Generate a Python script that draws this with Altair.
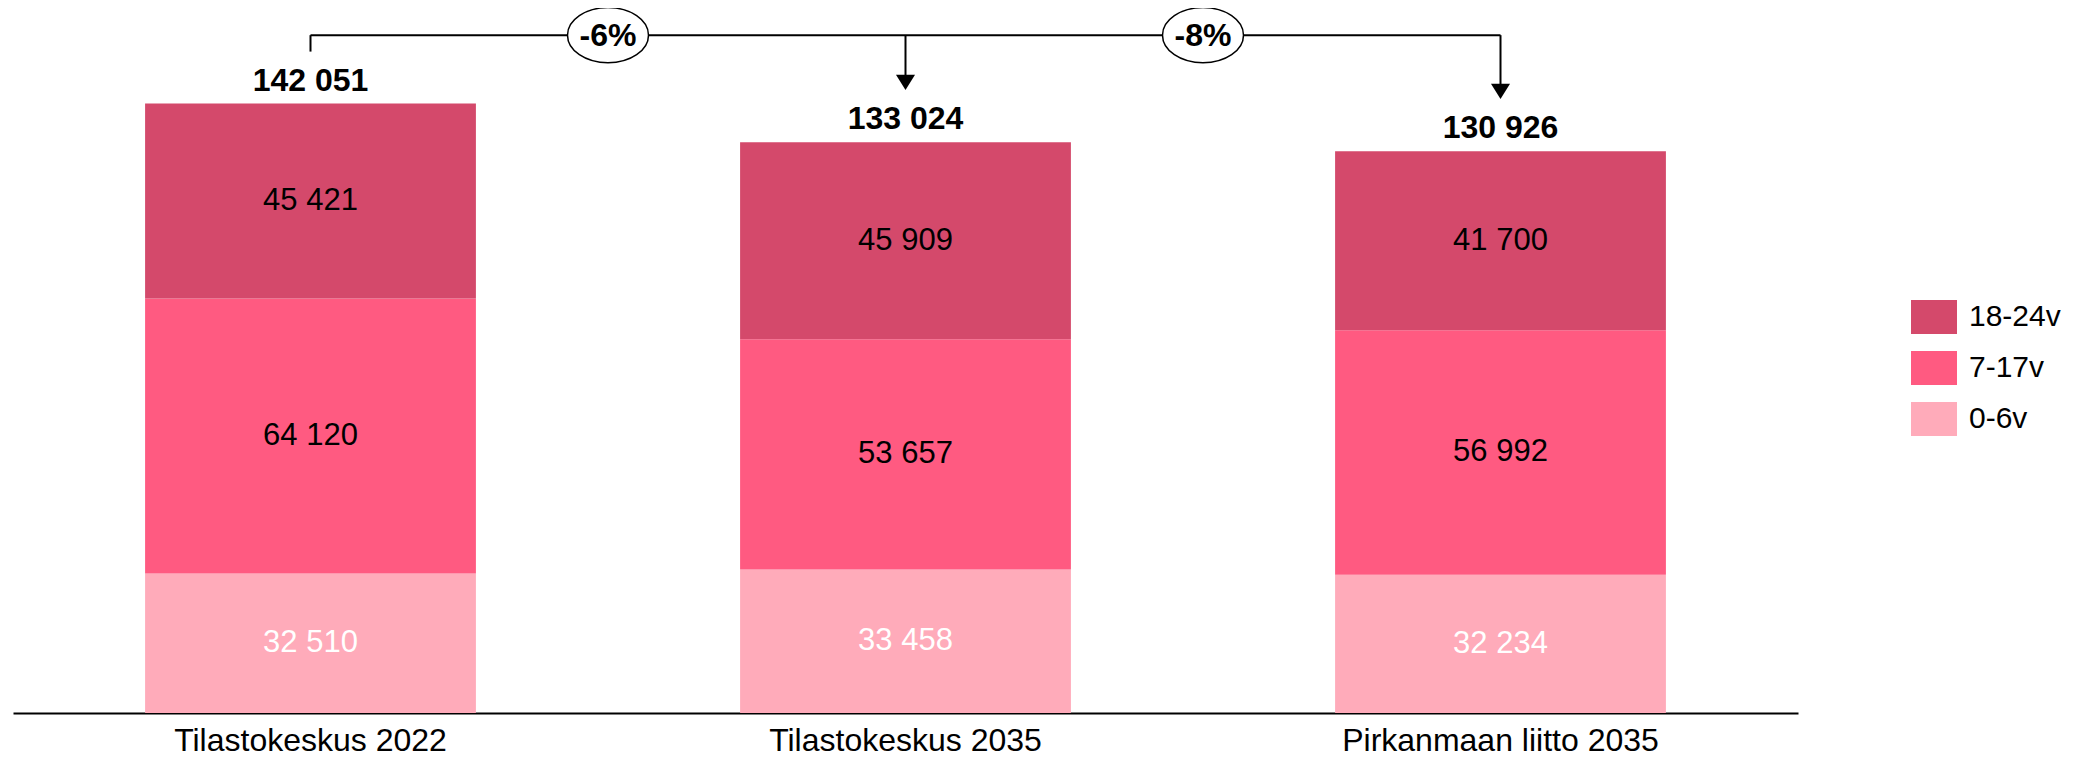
import altair as alt
import pandas as pd

# ---------------- data ----------------
CATS = ["Tilastokeskus 2022", "Tilastokeskus 2035", "Pirkanmaan liitto 2035"]
V_0_6 = [32510, 33458, 32234]
V_7_17 = [64120, 53657, 56992]
V_18_24 = [45421, 45909, 41700]
TOTALS = [142051, 133024, 130926]
CHANGES = ["-6%", "-8%"]
CHANGE_POS = [1, 2]          # between bar 1-2 and bar 2-3 (bars at 0.5, 1.5, 2.5)
LEGEND_ORDER = ["18-24v", "7-17v", "0-6v"]
COLORS = ["#D4496B", "#FF5A81", "#FFABBA"]

Y_MAX = 162000
LINE_Y = 158000
FONT = "Liberation Sans"


def fmt(v):
    return f"{v:,}".replace(",", " ")


rows = []
for i, c in enumerate(CATS):
    for g, vals, o in [("0-6v", V_0_6, 0), ("7-17v", V_7_17, 1), ("18-24v", V_18_24, 2)]:
        rows.append(dict(cat=c, group=g, value=vals[i], order=o, label=fmt(vals[i])))
seg = pd.DataFrame(rows)
tot = pd.DataFrame(dict(cat=CATS, total=TOTALS, label=[fmt(t) for t in TOTALS],
                        arrow=[False, True, True]))
chg = pd.DataFrame(dict(pos=CHANGE_POS, label=CHANGES))

xscale = alt.Scale(domain=CATS, paddingInner=0.444, paddingOuter=0.222)
AXIS = alt.Axis(labelAngle=0, labelFont=FONT, labelFontSize=32, labelColor="black",
                labelPadding=12, labelLimit=0, ticks=False, domainColor="black", domainWidth=2,
                grid=False, title=None)
x_axis = alt.X("cat:N", sort=CATS, scale=xscale, title=None, axis=AXIS)
y_scale = alt.Scale(domain=[0, Y_MAX], nice=False, zero=True)

RECT_PATH = "M-1,-0.74H1V0.74H-1Z"
TRI_PATH = "M-1,-0.8L1,-0.8L0,0.8Z"
ELLIPSE_PATH = "M-1,0A1,0.68,0,1,1,1,0A1,0.68,0,1,1,-1,0Z"

bars = alt.Chart(seg).mark_bar().encode(
    x=x_axis,
    y=alt.Y("value:Q", stack="zero", scale=y_scale, axis=None),
    color=alt.Color("group:N", scale=alt.Scale(domain=LEGEND_ORDER, range=COLORS),
                    legend=alt.Legend(title=None, orient="none", legendX=1898, legendY=276,
                                      symbolType=RECT_PATH, symbolSize=2116, symbolStrokeWidth=0,
                                      labelFont=FONT, labelFontSize=30, labelColor="black",
                                      labelOffset=12, rowPadding=10, padding=0)),
    order=alt.Order("order:Q", sort="ascending"),
)

seg_text = alt.Chart(seg).transform_stack(
    stack="value", groupby=["cat"], as_=["v0", "v1"],
    sort=[alt.SortField("order", order="ascending")],
).transform_calculate(mid="(datum.v0 + datum.v1) / 2").mark_text(
    font=FONT, fontSize=31, baseline="middle"
).encode(
    x=x_axis,
    y=alt.Y("mid:Q", scale=y_scale, axis=None),
    text="label:N",
    color=alt.condition("datum.group == '0-6v'", alt.value("white"), alt.value("black")),
)

hline = alt.Chart(tot).mark_line(color="black", strokeWidth=2).encode(
    x=x_axis, y=alt.YDatum(LINE_Y, axis=None)
)

rule_plain = alt.Chart(tot).transform_filter("!datum.arrow").mark_rule(
    color="black", strokeWidth=2, yOffset=-52
).encode(x=x_axis, y=alt.Y("total:Q", scale=y_scale, axis=None), y2=alt.Y2Datum(LINE_Y))

rule_arrow = alt.Chart(tot).transform_filter("datum.arrow").mark_rule(
    color="black", strokeWidth=2, yOffset=-60
).encode(x=x_axis, y=alt.Y("total:Q", scale=y_scale, axis=None), y2=alt.Y2Datum(LINE_Y))

heads = alt.Chart(tot).transform_filter("datum.arrow").mark_point(
    shape=TRI_PATH, size=361, filled=True, color="black", opacity=1, strokeWidth=0, yOffset=-60
).encode(x=x_axis, y=alt.Y("total:Q", scale=y_scale, axis=None))

tot_text = alt.Chart(tot).mark_text(
    font=FONT, fontSize=32, fontWeight="bold", baseline="alphabetic", dy=-13, color="black"
).encode(x=x_axis, y=alt.Y("total:Q", scale=y_scale, axis=None), text="label:N")

main = alt.layer(bars, seg_text, hline, rule_plain, rule_arrow, heads, tot_text)

xq = alt.X("pos:Q", scale=alt.Scale(domain=[0, 3], nice=False, zero=False), axis=None)
ell = alt.Chart(chg).mark_point(
    shape=ELLIPSE_PATH, size=6561, filled=False, fill="white", stroke="black",
    strokeWidth=1.5, opacity=1, fillOpacity=1
).encode(x=xq, y=alt.YDatum(LINE_Y, axis=None))
chg_text = alt.Chart(chg).mark_text(
    font=FONT, fontSize=32, fontWeight="bold", baseline="middle", color="black", dy=1
).encode(x=xq, y=alt.YDatum(LINE_Y, axis=None), text="label:N")

chart = alt.layer(main, alt.layer(ell, chg_text)).resolve_scale(x="independent").properties(
    width=1785, height=695,
    padding={"left": 5, "top": 10, "right": 270, "bottom": 44},
    autosize=alt.AutoSizeParams(type="none"),
).configure_view(stroke=None)

chart.save("out.html", embed_options={"renderer": "svg", "actions": False})
